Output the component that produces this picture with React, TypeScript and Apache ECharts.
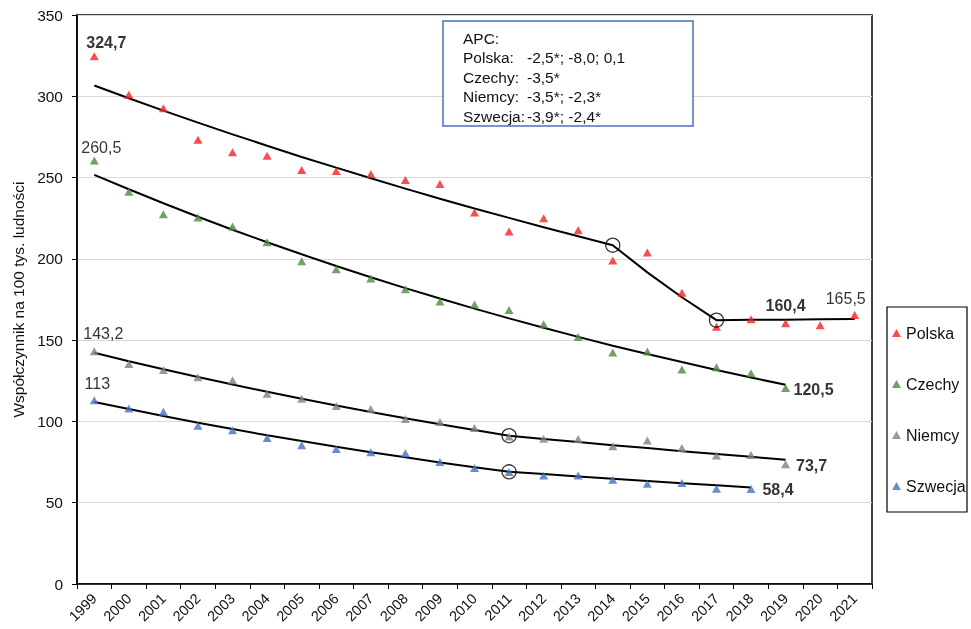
import React, { useEffect, useRef } from "react";
import * as echarts from "echarts";

const years = ["1999","2000","2001","2002","2003","2004","2005","2006","2007","2008","2009","2010","2011","2012","2013","2014","2015","2016","2017","2018","2019","2020","2021"];

const polska = [324.7, 301.0, 292.6, 273.3, 265.5, 263.4, 254.6, 254.0, 252.2, 248.5, 246.0, 228.5, 216.8, 225.0, 217.6, 199.0, 203.9, 179.2, 158.3, 162.8, 160.4, 159.1, 165.5];
const czechy = [260.5, 241.3, 227.5, 225.4, 219.9, 210.2, 198.5, 193.6, 187.9, 181.3, 173.7, 172.0, 168.5, 159.7, 151.9, 142.4, 143.0, 131.9, 133.4, 129.7, 120.5];
const niemcy = [143.2, 135.4, 131.7, 127.2, 125.4, 117.1, 113.9, 109.5, 107.7, 101.5, 99.7, 96.0, 90.8, 89.4, 89.2, 84.7, 88.3, 83.7, 79.1, 79.3, 73.7];
const szwecja = [113.0, 107.9, 106.0, 97.4, 94.5, 89.8, 85.3, 83.0, 81.0, 80.4, 75.0, 71.3, 68.9, 66.8, 66.8, 64.1, 61.7, 62.1, 58.6, 58.4];

const polskaTrend = [306.6, 298.8, 291.2, 283.8, 276.6, 269.6, 262.7, 256.1, 249.6, 243.2, 237.0, 231.0, 225.2, 219.4, 213.9, 208.4, 191.7, 176.4, 162.3, 162.5, 162.6, 162.8, 163.0];
const czechyTrend = [251.7, 242.8, 234.2, 225.9, 217.9, 210.2, 202.8, 195.6, 188.7, 182.0, 175.6, 169.4, 163.4, 157.6, 152.0, 146.6, 141.5, 136.5, 131.6, 127.0, 122.5];
const niemcyTrend = [142.2, 137.0, 132.1, 127.3, 122.7, 118.2, 113.9, 109.8, 105.8, 102.0, 98.3, 94.7, 91.2, 89.2, 87.3, 85.4, 83.6, 81.7, 80.0, 78.2, 76.5];
const szwecjaTrend = [112.0, 107.6, 103.3, 99.2, 95.3, 91.5, 87.9, 84.4, 81.1, 77.9, 74.8, 71.8, 69.0, 67.6, 66.2, 64.8, 63.4, 62.0, 60.7, 59.4];

const joinpoints: [string, number][] = [["2014", 208.4], ["2017", 162.3], ["2011", 91.2], ["2011", 69.0]];

const seriesNames = ["Polska", "Czechy", "Niemcy", "Szwecja"];

// data labels: series, year, text
const labelTexts: [string, string, string][] = [
  ["Polska", "1999", "324,7"],
  ["Czechy", "1999", "260,5"],
  ["Niemcy", "1999", "143,2"],
  ["Szwecja", "1999", "113"],
  ["Polska", "2019", "160,4"],
  ["Polska", "2021", "165,5"],
  ["Czechy", "2019", "120,5"],
  ["Niemcy", "2019", "73,7"],
  ["Szwecja", "2018", "58,4"],
];

const apcNames = ["Polska:", "Czechy:", "Niemcy:", "Szwecja:"];
const apcValues = ["-2,5*; -8,0; 0,1", "-3,5*", "-3,5*; -2,3*", "-3,9*; -2,4*"];

// label styling (offsets from point centre, bold flag)
const labelStyle: Record<string, { dx: number; dy: number; bold: boolean }> = {
  "324,7": { dx: 12, dy: -14, bold: true },
  "260,5": { dx: 7, dy: -13, bold: false },
  "143,2": { dx: 9, dy: -18, bold: false },
  "113": { dx: 3, dy: -17, bold: false },
  "160,4": { dx: 0, dy: -18, bold: true },
  "165,5": { dx: -9, dy: -16, bold: false },
  "120,5": { dx: 28, dy: 1, bold: true },
  "73,7": { dx: 26, dy: 1, bold: true },
  "58,4": { dx: 27, dy: 0, bold: true },
};

const colors: Record<string, string> = {
  Polska: "#F42020",
  Czechy: "#4E8B3C",
  Niemcy: "#7F7F7F",
  Szwecja: "#4472C4",
};

const FONT = '"Liberation Sans", Arial, sans-serif';

function buildScatter(name: string, values: number[]) {
  return {
    name,
    type: "scatter",
    symbol: "triangle",
    symbolSize: [9, 8],
    itemStyle: { color: colors[name] },
    z: 3,
    data: values.map((v, i) => {
      const lt = labelTexts.find((l) => l[0] === name && l[1] === years[i]);
      if (!lt) return v;
      const st = labelStyle[lt[2]];
      return {
        value: v,
        label: {
          show: true,
          position: "inside",
          formatter: lt[2],
          offset: [st.dx, st.dy],
          color: "#000",
          fontSize: 16,
          fontFamily: FONT,
          fontWeight: st.bold ? "bold" : "normal",
        },
      };
    }),
  };
}

function buildTrend(values: number[]) {
  return {
    type: "line",
    data: values,
    showSymbol: false,
    symbol: "none",
    lineStyle: { color: "#000", width: 2 },
    z: 2,
    silent: true,
  };
}

export default function App() {
  const ref = useRef<HTMLDivElement>(null);
  useEffect(() => {
    const chart = echarts.init(ref.current!, null, { renderer: "svg" });
    const apcTop = 38;
    const apcStep = 19.6;
    const option: any = {
      animation: false,
      textStyle: { fontFamily: FONT },
      grid: { left: 77, right: 99, top: 15, bottom: 45, show: true, borderColor: "#000", borderWidth: 1.5 },
      xAxis: {
        type: "category",
        data: years,
        boundaryGap: true,
        axisLine: { lineStyle: { color: "#000", width: 1.5 } },
        axisTick: { show: true, length: 5, interval: 0, lineStyle: { color: "#000" } },
        axisLabel: { rotate: 45, interval: 0, fontSize: 14.5, color: "#111", margin: 12, fontFamily: FONT },
        splitLine: { show: false },
      },
      yAxis: {
        type: "value",
        min: 0,
        max: 350,
        interval: 50,
        name: "Współczynnik na 100 tys. ludności",
        nameLocation: "middle",
        nameGap: 51,
        nameTextStyle: { fontSize: 15.5, color: "#111", fontFamily: FONT },
        axisLine: { show: true, lineStyle: { color: "#000", width: 1.5 } },
        axisTick: { show: true, length: 5, lineStyle: { color: "#000" } },
        axisLabel: { fontSize: 15.5, color: "#111", margin: 14, fontFamily: FONT },
        splitLine: { lineStyle: { color: "#d9d9d9", width: 1 } },
      },
      legend: {
        data: seriesNames,
        orient: "vertical",
        left: 887,
        top: 320,
        padding: 5,
        itemWidth: 9,
        itemHeight: 8,
        itemGap: 35,
        textStyle: { fontSize: 16, color: "#111", fontFamily: FONT },
        selectedMode: false,
      },
      series: [
        buildTrend(polskaTrend),
        buildTrend(czechyTrend),
        buildTrend(niemcyTrend),
        buildTrend(szwecjaTrend),
        buildScatter("Polska", polska),
        buildScatter("Czechy", czechy),
        buildScatter("Niemcy", niemcy),
        buildScatter("Szwecja", szwecja),
        {
          type: "scatter",
          symbol: "circle",
          symbolSize: 14,
          itemStyle: { color: "rgba(0,0,0,0)", borderColor: "#000", borderWidth: 1.3 },
          z: 4,
          silent: true,
          data: joinpoints,
        },
      ],
      graphic: [
        {
          type: "rect",
          shape: { x: 887, y: 307, width: 80, height: 205 },
          style: { fill: "none", stroke: "#000", lineWidth: 1.2 },
          z: 10,
        },
        {
          type: "rect",
          shape: { x: 443, y: 21, width: 250, height: 105 },
          style: { fill: "#fff", stroke: "#4472C4", lineWidth: 1.5 },
          z: 10,
        },
        {
          type: "text",
          x: 463,
          y: apcTop,
          z: 11,
          style: { text: "APC:", fontSize: 15.5, fontFamily: FONT, fill: "#111", verticalAlign: "middle", align: "left" },
        },
        ...apcNames.map((n, i) => ({
          type: "text",
          x: 463,
          y: apcTop + apcStep * (i + 1),
          z: 11,
          style: { text: n, fontSize: 15.5, fontFamily: FONT, fill: "#111", verticalAlign: "middle", align: "left" },
        })),
        ...apcValues.map((v, i) => ({
          type: "text",
          x: 527,
          y: apcTop + apcStep * (i + 1),
          z: 11,
          style: { text: v, fontSize: 15.5, fontFamily: FONT, fill: "#111", verticalAlign: "middle", align: "left" },
        })),
      ],
    };
    chart.setOption(option);
    return () => chart.dispose();
  }, []);
  return <div ref={ref} style={{ position: "fixed", left: 0, top: 0, width: 971, height: 629 }} />;
}
